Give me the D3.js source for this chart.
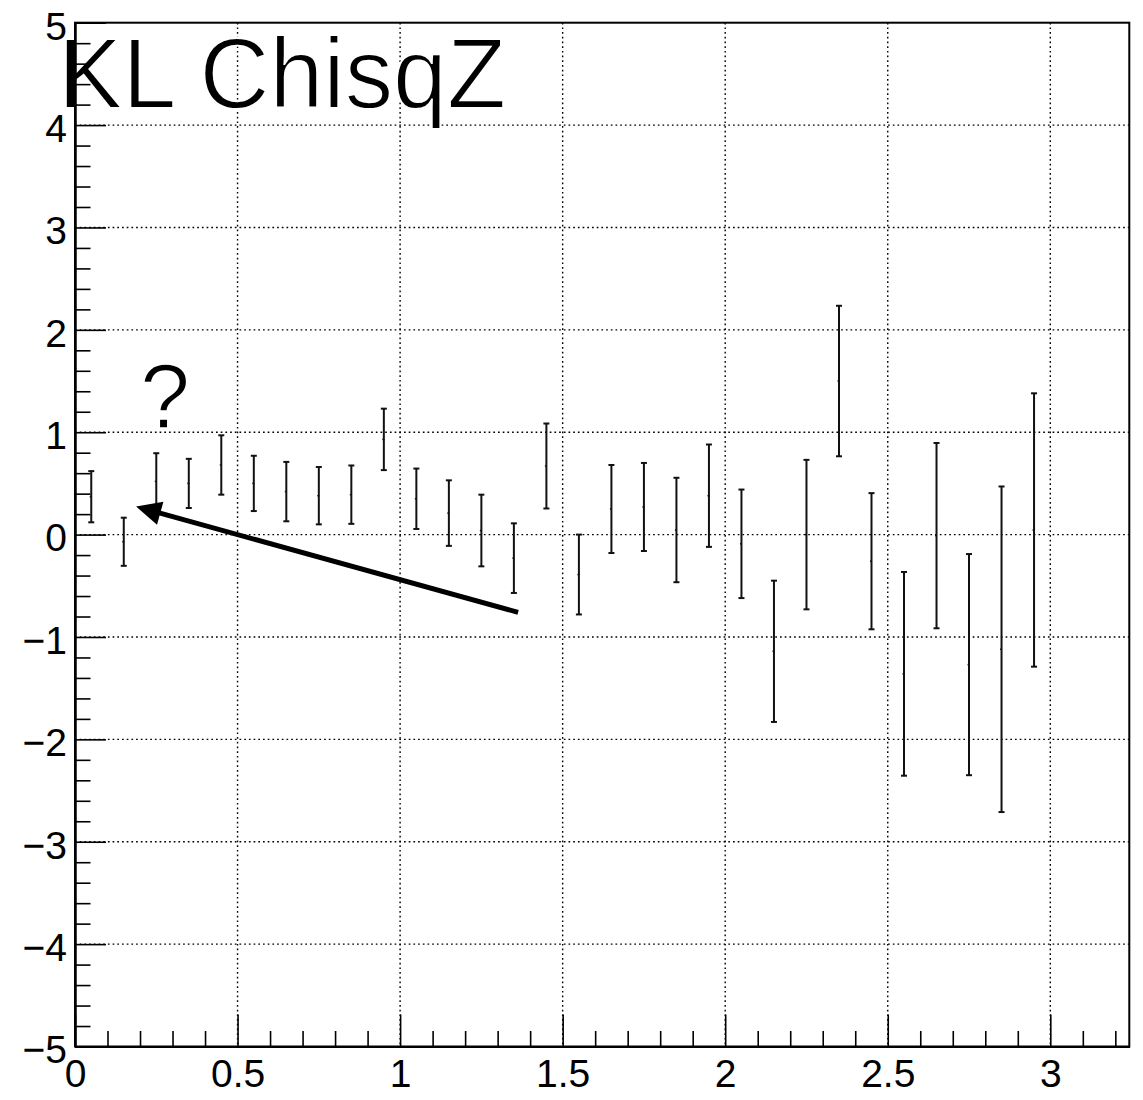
<!DOCTYPE html>
<html>
<head>
<meta charset="utf-8">
<script src="https://cdn.jsdelivr.net/npm/d3@7"></script>
<style>
  html, body { margin: 0; padding: 0; background: #fff; }
  svg { display: block; }
  text { font-family: "Liberation Sans", Arial, Helvetica, sans-serif; }
</style>
</head>
<body>
<svg id="chart" width="1143" height="1100"></svg>
<script>
// ---- data ----
const binCenters = [0.05,0.15,0.25,0.35,0.45,0.55,0.65,0.75,0.85,0.95,
                    1.05,1.15,1.25,1.35,1.45,1.55,1.65,1.75,1.85,1.95,
                    2.05,2.15,2.25,2.35,2.45,2.55,2.65,2.75,2.85,2.95];
const values = [0.37,-0.07,0.52,0.50,0.68,0.50,0.42,0.38,0.39,0.93,
                0.35,0.21,0.04,-0.23,0.67,-0.39,0.25,0.27,0.045,0.38,
                -0.09,-1.14,0.0,1.50,-0.26,-1.36,-0.01,-1.27,-1.12,0.045];
const errors = [0.25,0.235,0.275,0.24,0.29,0.27,0.29,0.28,0.285,0.30,
                0.295,0.32,0.35,0.34,0.415,0.39,0.43,0.43,0.51,0.50,
                0.53,0.69,0.73,0.735,0.665,0.995,0.905,1.08,1.59,1.335];
const xMajorTicks = [0,0.5,1,1.5,2,2.5,3];
const xTickLabels = ["0","0.5","1","1.5","2","2.5","3"];
const yMajorTicks = [-5,-4,-3,-2,-1,0,1,2,3,4,5];
const yTickLabels = ["\u22125","\u22124","\u22123","\u22122","\u22121","0","1","2","3","4","5"];
const xDomain = [0, 3.243];
const yDomain = [-5, 5];
const titleText = "KL ChisqZ";
const noteText = "?";
const arrowFrom = [1.363, -0.759];
const arrowTo = [0.188, 0.274];

// ---- layout ----
const svg = d3.select("#chart");
const L = 75, R = 1129.3, T = 22.7, B = 1046.5;
const x = d3.scaleLinear().domain(xDomain).range([L, R]);
const y = d3.scaleLinear().domain(yDomain).range([B, T]);

// grid
const grid = svg.append("g").attr("stroke", "#000").attr("stroke-width", 1.4)
  .attr("stroke-dasharray", "1.7,3.0");
grid.selectAll("line.gx").data(xMajorTicks.filter(v => v > 0))
  .join("line").attr("class","gx")
  .attr("x1", d => x(d)).attr("x2", d => x(d)).attr("y1", T).attr("y2", B);
grid.selectAll("line.gy").data(yMajorTicks.filter(v => v > -5 && v < 5))
  .join("line").attr("class","gy")
  .attr("y1", d => y(d)).attr("y2", d => y(d)).attr("x1", L).attr("x2", R);

// texts (drawn under the axes; thinned to look like a light face)
svg.append("text").attr("x", 140).attr("y", 428).attr("font-size", 90)
  .attr("fill", "#000").attr("stroke", "#fff").attr("stroke-width", 1.6)
  .text(noteText);
svg.append("text").attr("x", 58).attr("y", 108).attr("font-size", 100)
  .attr("fill", "#000").attr("stroke", "#fff").attr("stroke-width", 1.8)
  .attr("textLength", 448).attr("lengthAdjust", "spacingAndGlyphs")
  .text(titleText);

// frame
svg.append("rect").attr("x", L).attr("y", T).attr("width", R - L).attr("height", B - T)
  .attr("fill", "none").attr("stroke", "#000").attr("stroke-width", 2);

// x axis (major + minor)
const xMinor = d3.range(0, 33).map(i => i / 10).filter(v => v <= xDomain[1] && Math.abs(v*2 - Math.round(v*2)) > 1e-6);
const xAx = svg.append("g").attr("transform", `translate(0,${B})`)
  .call(d3.axisBottom(x).tickValues(xMajorTicks)
        .tickFormat((d, i) => xTickLabels[i]).tickSizeInner(-32).tickSizeOuter(0).tickPadding(10));
svg.append("g").attr("transform", `translate(0,${B})`)
  .call(d3.axisBottom(x).tickValues(xMinor).tickFormat("").tickSizeInner(-15.5).tickSizeOuter(0));
// y axis
const yMinor = d3.range(-50, 51, 2).map(v => v / 10).filter(v => Math.abs(v - Math.round(v)) > 1e-6);
const yAx = svg.append("g").attr("transform", `translate(${L},0)`)
  .call(d3.axisLeft(y).tickValues(yMajorTicks)
        .tickFormat((d, i) => yTickLabels[i]).tickSizeInner(-31).tickSizeOuter(0).tickPadding(8));
svg.append("g").attr("transform", `translate(${L},0)`)
  .call(d3.axisLeft(y).tickValues(yMinor).tickFormat("").tickSizeInner(-15.5).tickSizeOuter(0));

svg.selectAll(".domain").attr("stroke", "#000").attr("stroke-width", 2);
svg.selectAll(".tick line").attr("stroke", "#000").attr("stroke-width", 1.6);
xAx.selectAll("text").attr("font-size", 39).attr("fill", "#000")
  .attr("font-family", "'Liberation Sans', Arial, sans-serif").attr("dy", "0.78em");
yAx.selectAll("text").attr("font-size", 39).attr("fill", "#000")
  .attr("font-family", "'Liberation Sans', Arial, sans-serif").attr("dy", "0.42em");

// error bars
const data = binCenters.map((c, i) => ({ c, v: values[i], e: errors[i] }));
const eb = svg.append("g").attr("stroke", "#111").attr("stroke-width", 2);
eb.selectAll("line.v").data(data).join("line").attr("class", "v")
  .attr("x1", d => x(d.c)).attr("x2", d => x(d.c))
  .attr("y1", d => y(d.v + d.e)).attr("y2", d => y(d.v - d.e));
eb.selectAll("line.ct").data(data).join("line").attr("class", "ct")
  .attr("x1", d => x(d.c) - 3).attr("x2", d => x(d.c) + 3)
  .attr("y1", d => y(d.v + d.e)).attr("y2", d => y(d.v + d.e));
eb.selectAll("line.cb").data(data).join("line").attr("class", "cb")
  .attr("x1", d => x(d.c) - 3).attr("x2", d => x(d.c) + 3)
  .attr("y1", d => y(d.v - d.e)).attr("y2", d => y(d.v - d.e));
eb.selectAll("line.m").data(data).join("line").attr("class", "m")
  .attr("x1", d => x(d.c) - 1.5).attr("x2", d => x(d.c) + 0.5)
  .attr("y1", d => y(d.v)).attr("y2", d => y(d.v)).attr("stroke-width", 1.5);

// arrow
const ax0 = x(arrowFrom[0]), ay0 = y(arrowFrom[1]);
const ax1 = x(arrowTo[0]), ay1 = y(arrowTo[1]);
const dx = ax1 - ax0, dy = ay1 - ay0, len = Math.hypot(dx, dy);
const ux = dx / len, uy = dy / len;
const headL = 25, headW = 12;
const bx = ax1 - ux * headL, by = ay1 - uy * headL;
svg.append("line").attr("x1", ax0).attr("y1", ay0).attr("x2", bx + ux * 2).attr("y2", by + uy * 2)
  .attr("stroke", "#000").attr("stroke-width", 5);
svg.append("path")
  .attr("d", `M${ax1},${ay1}L${bx - uy * headW},${by + ux * headW}L${bx + uy * headW},${by - ux * headW}Z`)
  .attr("fill", "#000");
</script>
</body>
</html>
